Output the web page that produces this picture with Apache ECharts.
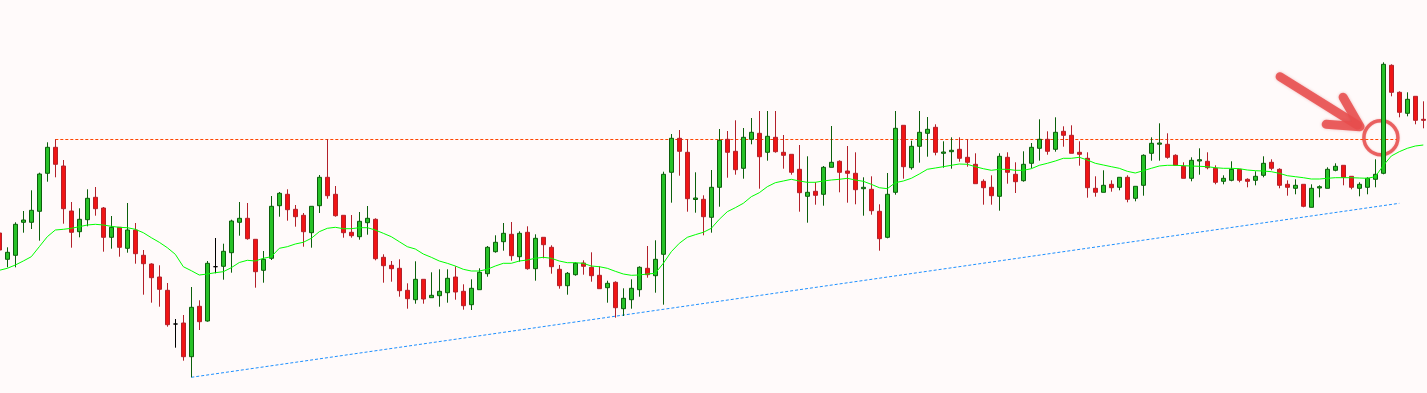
<!DOCTYPE html>
<html>
<head>
<meta charset="utf-8">
<script src="https://cdn.jsdelivr.net/npm/echarts@6/dist/echarts.min.js"></script>
<style>
html,body{margin:0;padding:0;background:#fffafa;overflow:hidden;width:1427px;height:393px;position:relative;}
#chart{position:absolute;left:-5px;top:0;width:1437px;height:393px;}
</style>
</head>
<body>
<div id="chart"></div>
<script>
// Price values (arbitrary price units), one entry per bar, oldest first
const openP = [
160,133.7,137.7,170.7,170.7,181.7,219.7,245.7,227,182,
161.3,173.3,195.7,185,155.7,165.7,144.7,163,137.7,129,
116,102.7,69,70,36.3,86.7,72,126.3,126.7,140.3,
170.7,174.7,153.7,122.7,134.7,187.3,198.7,183.7,177.7,160.3,
187.3,215.7,198.7,177.7,160.7,156.3,170.3,173.7,135.7,127.7,
124.7,102.7,93.3,113.7,95.3,97.3,100.3,116,101.7,88.3,
103.3,119.3,141.3,151.3,158.7,136.3,160.7,124.3,155.7,145.7,
123.7,107.3,118.3,130,125.7,117.7,105.3,110.7,84.3,93.3,
103.3,124.7,117.3,138.7,220.7,254.7,240.7,193.5,193.7,175.7,
205.7,253.7,241.7,224.7,253.7,259.7,240.7,255.7,240.7,238.7,
223.7,196.7,201.7,198.7,225.7,231.7,222,219.7,204.3,203.7,
181.7,155.7,200.7,267.7,225.3,246.7,259.7,265.7,239.7,241.3,
243.7,235.7,228.7,211.7,205.7,196.7,235.7,218.7,212.3,229.7,
244.7,253.7,243.7,261.7,257.7,240.7,234.7,204.7,200.7,208.7,
205.7,215.7,194.7,207.7,239.7,248.8,248.7,237.7,226.7,214.7,
232,231.7,224.7,211.7,212.7,223.7,213.7,212.7,217.7,230.7,
223.7,208.7,204.7,208.7,185.7,205,204.7,222.7,227.7,216.7,
204.7,205.7,213.7,219.7,327.7,300.7,279.7,296.7,273.7
];
const closeP = [
143,140.7,168.7,173,182.7,219,245.7,228.7,184.3,160.7,
173.7,194.7,184.3,155.7,165.7,145.7,163,139.3,129.3,115.3,
103.7,68.3,69,36.3,85.7,71.3,129.7,126.3,141.7,172,
174.7,154.3,121.3,133.7,186.7,199.7,183.3,176.3,161.3,186.7,
215.7,197.3,177.3,160.3,157.3,171.7,174.7,134.3,127.3,124.3,
102.3,94.3,113.7,94,97.7,101.7,114.7,101,87.3,104.7,
120.7,145.7,150.7,159.7,137.3,159.7,124.3,154.7,148.3,126.3,
107.3,119.7,129.7,126.7,117.3,104.3,109.7,85.3,94.7,104.7,
125.7,118.3,133.7,218.7,254.7,241.7,194.3,195,176.3,205.7,
252.7,240.7,223.3,255.7,260.7,236.3,256.7,241.3,237.7,220.7,
200.3,200.7,197.7,225.7,230.7,220.7,219.7,203.3,205.7,182.3,
154.3,198.7,264.7,226.3,246.7,260.7,263.7,240.7,241,242.7,
234.7,230.7,209.3,205.3,197.3,236.7,220.7,211.3,228.7,245.7,
253.7,241.7,260.7,257.7,239.7,238.7,205.3,200.7,207.7,205.3,
215.7,193.7,206.7,237.7,249.7,250,235.7,227.7,214.7,232.7,
233.3,225.3,210.7,214.7,223.7,212.7,211.7,216.7,229.7,224.7,
207.7,205.7,207.7,186.7,204.7,206.3,223.7,226.7,215.7,205.7,
208.7,214.7,218.7,328.7,300.7,280.7,293.7,272.7,272.7
];
const lowP = [
141,125.7,125.7,160.3,164,152.3,211.3,215.7,169.3,145.3,
155.7,166.7,177.3,141.3,144.3,136.3,140.3,129.3,98.3,90.3,
86.3,66.3,45.3,32.3,15.7,63,71.3,119.7,113.3,120.3,
157.3,153.3,105.3,110.3,133,176.3,172.3,166.3,146.3,145.3,
180,194.3,176.3,155.3,155.3,153.3,158.3,132.7,110.3,111.3,
96.3,84.3,89.3,89.3,95.3,86.3,90.3,93.3,83.3,83,
103.3,116.3,140.3,142.3,132.3,131.3,123.3,112.3,134.7,119.3,
104.3,98.3,117.3,118.3,111.3,104.3,90.3,75.3,77,84.3,
96.3,115.3,100.3,88.3,190.3,217.3,181.3,180.3,157.7,160.3,
186.3,215.3,218.3,214.3,248.7,204.3,232.3,240.3,224.3,218.3,
181.3,170.3,188.3,187.3,225.7,200.7,190.3,188.7,177.3,178.3,
142.3,154.7,198.3,214.3,223.3,230.3,236.3,237.7,225.3,224.3,
231.3,226.3,209.3,188.3,188.3,182.3,209.3,200,211.3,224.7,
232.3,238.3,241.3,246.3,239.7,227.3,195.3,196.3,200.7,201.3,
202.7,190.7,191.7,197.3,232.3,232.3,234.3,227.7,214.7,211.7,
218.3,223.7,208.7,208.7,211.7,210.7,205.7,207.7,215.7,222.7,
204.7,197.3,198.7,185.7,185.7,195.7,204.7,221.7,207.7,203.7,
196.7,198.7,205.7,218.7,296.7,275.7,276.7,268.7,264.7
];
const highP = [
162,145.7,170.7,182,202.7,220.3,250.7,253.7,233,191,
184.7,203.7,206,186,177,166,190,170,143,129.7,
127.7,110,74,78,106,92.7,132,155,149.3,173.3,
191,190,153.7,142,197,201,203.7,188,180,186.7,
218,253.7,207,177.7,178,181,187,174.7,138.7,132,
133.7,109.7,131.7,113.7,120.7,123.7,123.7,126.7,108.7,113.7,
124.7,147,157.7,170,171,161.7,166.7,158.7,155.7,147.7,
128,121,130.7,132.7,140.7,126.7,112.3,111.7,104.7,113.7,
126.7,147,152.7,221.3,259,263,253.7,220.7,197.7,223,
264,262,272.7,265,275,282,282,282,258,238.7,
248,236.7,210.7,227,267,232.7,247,240.7,215.7,216.7,
188.7,220,282,267.7,252.3,282,276,268.7,251.7,255.7,
255.7,253.7,239.7,213.7,217.7,239.7,240.7,230.7,241.7,250,
273.7,261.7,275.7,266.7,267.7,251.7,240.7,216.7,222.7,212.7,
215.7,217.7,206.7,238.7,255.7,269.7,259.7,238.7,230.7,235.7,
244.7,240.7,227.7,217.7,231.7,223.7,214.7,221.7,236.7,233.7,
224.7,212.7,213.7,208.7,208.7,207.7,225.7,229.7,227.7,216.7,
210.7,215.7,233.7,330.7,328.7,301.7,300.7,296.7,291.7
];
// Moving average
const maValues = [
122.7,124.7,128,132,136.3,146.3,156.3,163,163.7,164.7,
166.3,168,168.7,168,166.7,165.7,165.3,163.7,160.3,155.3,
150.7,145.3,138.7,126.3,122.3,118,119,120.3,121.3,125.3,
130.5,132.7,132,134.7,136.3,144.7,146.3,149,150.7,154.7,
161.3,164.7,165.7,164.3,164.3,165.3,165.3,163,159.7,156.3,
151.3,146.3,144,139,135.7,132,129.7,127,123.7,122,
122,123.7,127,129.7,129.7,132,133,134.7,135.7,134.7,
132,130.3,130.3,129.7,127,126.3,124.7,121.7,119,117.7,
118,119,119.7,129.7,141.3,149.7,155.7,158.3,160.7,164.7,
173.7,181.3,185.3,189.7,196.3,200.3,206.3,210.3,212,213.7,
212,210.7,210.7,212,213,213.7,214.7,213,211.7,208.7,
205.3,204.3,210.3,212,214.7,219,223.7,225,226.3,227.7,
229,228.7,226.3,224.3,222.7,223.7,223.7,222.7,222.7,224.3,
227.7,229.7,232,234.7,234.7,235.7,233,229.7,228,226.3,
224.7,221.7,220,222.3,224.7,227,227.7,227.7,227.3,227,
226.7,226.3,225.3,224.7,224.7,224.3,223,222.3,222,221.3,
219.7,217.3,216.3,215.3,214,214,214.7,215.3,215.3,215.3,
215,214.7,216.3,227.5,237,241.3,244.7,247,248
];
const dojiBlack = [22, 27];           // bars drawn as black crosses
const resistanceLine = [[7, 253.5], [174.7, 253.5]];   // [bar index, price]
const trendLine = [[24, 15.7], [175, 189.7]];          // [bar index, price]
const arrowTail = [160.1, 316.3], arrowTip = [170.1, 266.3];
const circleCenter = [172.7, 255.3];

const categories = openP.map((_, i) => 'Bar ' + (i + 1));
const N = categories.length;

const candleData = openP.map((o, i) => {
  const item = { value: [o, closeP[i], lowP[i], highP[i]] };
  if (dojiBlack.indexOf(i) >= 0) item.itemStyle = { color: '#000', borderColor: '#000', borderColorDoji: '#000' };
  return item;
});

const chart = echarts.init(document.getElementById('chart'), null, { renderer: 'canvas' });
const bw = 8;
chart.setOption({
  backgroundColor: '#fffafa',
  animation: false,
  grid: { left: 0.3, top: 0, width: N * bw, height: 393, containLabel: false },
  xAxis: [
    { type: 'category', data: categories, boundaryGap: true, show: false },
    { type: 'value', min: -0.5, max: N - 0.5, show: false }
  ],
  yAxis: { type: 'value', min: 0, max: 393, show: false, scale: true },
  series: [
    {
      type: 'candlestick', xAxisIndex: 0, data: candleData, barWidth: 4, z: 3,
      itemStyle: {
        color: '#27c127', color0: '#f01414',
        borderColor: '#0b5f0b', borderColor0: '#b3202a',
        borderColorDoji: '#0b5f0b', borderWidth: 1
      }
    },
    {
      type: 'line', xAxisIndex: 0, data: maValues, symbol: 'none', smooth: false, z: 4,
      lineStyle: { color: '#00ff00', width: 1 }
    },
    {
      type: 'line', xAxisIndex: 1, data: resistanceLine, symbol: 'none', z: 2,
      lineStyle: { color: '#ff4500', width: 1, type: [3, 2] }
    },
    {
      type: 'line', xAxisIndex: 1, data: trendLine, symbol: 'none', z: 2,
      lineStyle: { color: '#1e90ff', width: 1, type: [3, 2] }
    }
  ]
});

function px(p) { return chart.convertToPixel({ xAxisIndex: 1, yAxisIndex: 0 }, p); }
const t0 = px(arrowTail), t1 = px(arrowTip), cc = px(circleCenter);
const ang = Math.atan2(t1[1] - t0[1], t1[0] - t0[0]);
const headLen = 34, spread = 28 * Math.PI / 180;
const w1 = [t1[0] - headLen * Math.cos(ang - spread), t1[1] - headLen * Math.sin(ang - spread)];
const w2 = [t1[0] - headLen * Math.cos(ang + spread), t1[1] - headLen * Math.sin(ang + spread)];
const redStyle = {
  stroke: 'rgba(232,78,78,0.88)', lineWidth: 9, lineCap: 'round', lineJoin: 'round', fill: null,
  shadowBlur: 3, shadowColor: 'rgba(200,40,40,0.35)'
};
chart.setOption({
  graphic: [
    { type: 'polyline', z: 100, shape: { points: [t0, [t1[0] - 3 * Math.cos(ang), t1[1] - 3 * Math.sin(ang)]] }, style: redStyle },
    { type: 'polyline', z: 100, shape: { points: [w1, t1, w2] }, style: redStyle },
    { type: 'circle', z: 1, shape: { cx: cc[0], cy: cc[1], r: 17 },
      style: { stroke: 'rgba(232,78,78,0.85)', lineWidth: 3.5, fill: null, shadowBlur: 2, shadowColor: 'rgba(200,40,40,0.3)' } }
  ]
});
</script>
</body>
</html>
